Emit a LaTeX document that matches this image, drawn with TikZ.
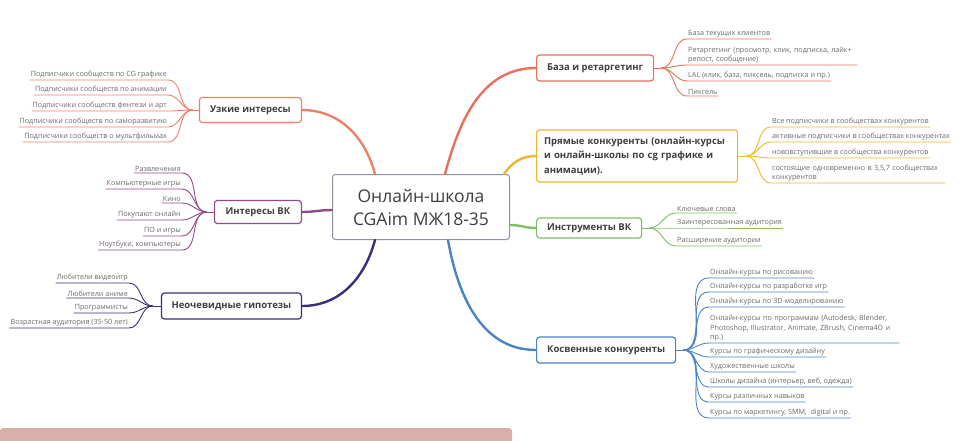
\documentclass[tikz,border=0pt]{standalone}
\usepackage{fontspec}
\setmainfont{Open Sans}
\usepackage{xcolor}
\usetikzlibrary{positioning}

\definecolor{hubgray}{HTML}{8C939E}
\definecolor{txtgray}{HTML}{3F3F3F}
\definecolor{leafgray}{HTML}{6A6A6A}
\definecolor{cRed}{HTML}{E8705C}
\definecolor{cYel}{HTML}{F1B42F}
\definecolor{cGrn}{HTML}{7FBF66}
\definecolor{cBlu}{HTML}{4A84C6}
\definecolor{cSal}{HTML}{EE8068}
\definecolor{cPur}{HTML}{8E4B88}
\definecolor{cInd}{HTML}{3B2F7B}
\definecolor{barpink}{HTML}{D8B0AA}

\begin{document}
\begin{tikzpicture}[x=1pt, y=-1pt,
          font=\fontsize{7.2}{9.5}\selectfont,
          hub/.style={draw=hubgray, line width=1pt, rounded corners=3pt, fill=white, text=txtgray, align=center,
            font=\fontsize{17.5}{23}\selectfont, minimum width=177pt, minimum height=65pt},
          topic/.style={draw=#1, line width=1.2pt, rounded corners=3pt, fill=white, text=txtgray,
            font=\bfseries\fontsize{9.5}{14.5}\selectfont, inner sep=0pt},
          leafR/.style={anchor=south west, text=leafgray, align=left, inner xsep=1pt, inner ysep=1.5pt},
          leafL/.style={anchor=south east, text=leafgray, align=right, inner xsep=1pt, inner ysep=1.5pt},
          limb/.style={draw=#1, line width=2.4pt, line cap=round},
          twig/.style={draw=#1, line width=0.9pt}]
        \useasboundingbox (0,0) rectangle (965,440);
        \fill[barpink, rounded corners=3pt] (0,428) rectangle (512,446);
        % centre and main topics
        \node[hub] (hub) at (421,207) {Онлайн-школа\\CGAim МЖ18-35};
        \node[topic=cRed, anchor=west, minimum width=117pt, minimum height=26pt] (base) at (536,68) {База и ретаргетинг};
        \node[topic=cYel, anchor=west, minimum width=201pt, minimum height=52pt, text width=186pt, align=left] (rivals) at (536,156)
          {Прямые конкуренты (онлайн-курсы\\и онлайн-школы по cg графике и\\анимации).};
        \node[topic=cGrn, anchor=west, minimum width=105pt, minimum height=20pt] (tools) at (536,228) {Инструменты ВК};
        \node[topic=cBlu, anchor=west, minimum width=139pt, minimum height=26pt] (indirect) at (536,350) {Косвенные конкуренты};
        \node[topic=cSal, anchor=east, minimum width=102pt, minimum height=25pt] (narrow) at (302,110) {Узкие интересы};
        \node[topic=cPur, anchor=east, minimum width=87pt, minimum height=23pt] (vk) at (302,212) {Интересы ВК};
        \node[topic=cInd, anchor=east, minimum width=140pt, minimum height=26pt] (hypo) at (302,306) {Неочевидные гипотезы};
        \draw[limb=cRed] ([xshift=24pt]hub.north) to[out=75,in=180] (base.west);
        \draw[limb=cYel] ([xshift=-6pt]hub.north east) to[out=55,in=180] (rivals.west);
        \draw[limb=cGrn] ([yshift=-18pt]hub.east) to[out=0,in=180] (tools.west);
        \draw[limb=cBlu] ([xshift=27pt]hub.south) to[out=-80,in=180] (indirect.west);
        \draw[limb=cSal] ([xshift=-46pt]hub.north) to[out=105,in=0] (narrow.east);
        \draw[limb=cPur] ([yshift=-3pt]hub.west) to[out=180,in=0] (vk.east);
        \draw[limb=cInd] ([xshift=-46pt]hub.south) to[out=-105,in=0] (hypo.east);
        \coordinate[right=7pt of base] (jB);
        \coordinate[right=8pt of rivals] (jD);
        \coordinate[right=7pt of tools] (jT);
        \coordinate[right=7pt of indirect] (jK);
        \coordinate[left=6pt of narrow] (jN);
        \coordinate[left=7pt of vk] (jV);
        \coordinate[left=8pt of hypo] (jH);
        \draw[twig=cRed] (base) -- (jB); \draw[twig=cYel] (rivals) -- (jD);
        \draw[twig=cGrn] (tools) -- (jT); \draw[twig=cBlu] (indirect) -- (jK);
        \draw[twig=cSal] (narrow) -- (jN); \draw[twig=cPur] (vk) -- (jV);
        \draw[twig=cInd] (hypo) -- (jH);
        % base and retargeting
        \node[leafR] (b1) at (687,39) {База текущих клиентов};
        \node[leafR, text width=168pt] (b2) at (687,65) {Ретаргетинг (просмотр, клик, подписка, лайк+\\репост, сообщение)};
        \node[leafR] (b3) at (687,81) {LAL (клик, база, пиксель, подписка и пр.)};
        \node[leafR] (b4) at (687,96) {Пиксель};
        \foreach \l in {b1,b2,b3,b4}
          \draw[twig=cRed] (jB) to[out=0,in=180] (\l.south west) -- (\l.south east);
        % direct rivals
        \node[leafR] (d1) at (771,127) {Все подписчики в сообществах конкурентов};
        \node[leafR] (d2) at (771,142) {активные подписчики в сообществах конкурентах};
        \node[leafR] (d3) at (771,158) {нововступившие в сообщества конкурентов};
        \node[leafR, text width=172pt] (d4) at (771,183) {состоящие одновременно в 3,5,7 сообществах\\конкурентов};
        \foreach \l in {d1,d2,d3,d4}
          \draw[twig=cYel] (jD) to[out=0,in=180] (\l.south west) -- (\l.south east);
        % VK tools
        \node[leafR] (t1) at (676,213) {Ключевые слова};
        \node[leafR] (t2) at (676,228) {Заинтересованная аудитория};
        \node[leafR] (t3) at (676,246) {Расширение аудитории};
        \foreach \l in {t1,t2,t3}
          \draw[twig=cGrn] (jT) to[out=0,in=180] (\l.south west) -- (\l.south east);
        % indirect rivals
        \node[leafR] (k1) at (709,278) {Онлайн-курсы по рисованию};
        \node[leafR] (k2) at (709,292) {Онлайн-курсы по разработке игр};
        \node[leafR] (k3) at (709,307) {Онлайн-курсы по 3D-моделированию};
        \node[leafR, text width=188pt] (k4) at (709,343)
          {Онлайн-курсы по программам (Autodesk, Blender,\\Photoshop, Illustrator, Animate, ZBrush, Cinema4D и\\пр.)};
        \node[leafR] (k5) at (709,357) {Курсы по графическому дизайну};
        \node[leafR] (k6) at (709,372) {Художественные школы};
        \node[leafR] (k7) at (709,387) {Школы дизайна (интерьер, веб, одежда)};
        \node[leafR] (k8) at (709,402) {Курсы различных навыков};
        \node[leafR] (k9) at (709,418) {Курсы по маркетингу, SMM,\ \ digital и пр.};
        \foreach \l in {k1,k2,k3,k4,k5,k6,k7,k8,k9}
          \draw[twig=cBlu] (jK) to[out=0,in=180] (\l.south west) -- (\l.south east);
        % narrow interests
        \node[leafL] (n1) at (168,80) {Подписчики сообществ по CG графике};
        \node[leafL] (n2) at (168,95) {Подписчики сообществ по анимации};
        \node[leafL] (n3) at (168,111) {Подписчики сообществ фентези и арт};
        \node[leafL] (n4) at (168,127) {Подписчики сообществ по саморазвитию};
        \node[leafL] (n5) at (168,142) {Подписчики сообществ о мультфильмах};
        \foreach \l in {n1,n2,n3,n4,n5}
          \draw[twig=cSal] (jN) to[out=180,in=0] (\l.south east) -- (\l.south west);
        % VK interests
        \node[leafL] (v1) at (182,173) {Развлечения};
        \node[leafL] (v2) at (182,189) {Компьютерные игры};
        \node[leafL] (v3) at (182,203) {Кино};
        \node[leafL] (v4) at (182,220) {Покупают онлайн};
        \node[leafL] (v5) at (182,236) {ПО и игры};
        \node[leafL] (v6) at (182,250) {Ноутбуки, компьютеры};
        \foreach \l in {v1,v2,v3,v4,v5,v6}
          \draw[twig=cPur] (jV) to[out=180,in=0] (\l.south east) -- (\l.south west);
        % hypotheses
        \node[leafL] (h1) at (129,283) {Любители видеоигр};
        \node[leafL] (h2) at (129,298) {Любители аниме};
        \node[leafL] (h3) at (129,313) {Программисты};
        \node[leafL] (h4) at (129,328) {Возрастная аудитория (35-50 лет)};
        \foreach \l in {h1,h2,h3,h4}
          \draw[twig=cInd] (jH) to[out=180,in=0] (\l.south east) -- (\l.south west);
      \end{tikzpicture}
\end{document}
